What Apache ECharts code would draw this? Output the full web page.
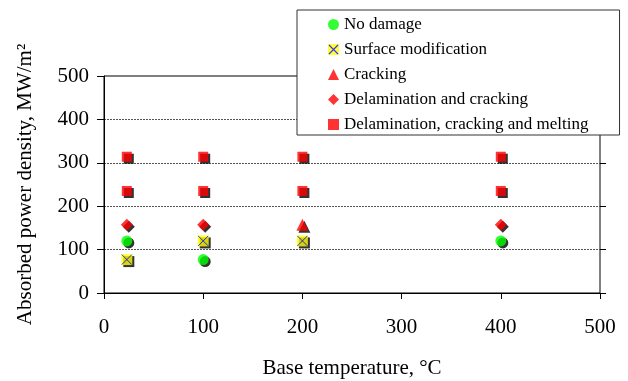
<!DOCTYPE html>
<html>
<head>
<meta charset="utf-8">
<script src="https://cdn.jsdelivr.net/npm/echarts@6/dist/echarts.min.js"></script>
<style>
html,body{margin:0;padding:0;background:#fff;}
#chart{width:628px;height:381px;}
</style>
</head>
<body>
<div id="chart"></div>
<script>
// Data: [base temperature °C, absorbed power density MW/m²]
const seriesNames = ['No damage', 'Surface modification', 'Cracking', 'Delamination and cracking', 'Delamination, cracking and melting'];
const noDamage = [[23, 120], [100, 77], [400, 120]];
const surfaceModification = [[23, 77], [100, 120], [200, 120]];
const cracking = [[200, 157]];
const delaminationCracking = [[23, 157], [100, 157], [400, 157]];
const delaminationCrackingMelting = [[23, 235], [100, 235], [200, 235], [400, 235], [23, 314], [100, 314], [200, 314], [400, 314]];
const xTicks = [0, 100, 200, 300, 400, 500];
const yTicks = [0, 100, 200, 300, 400, 500];

const FONT = "'Liberation Serif', 'Times New Roman', serif";
const shadow = { shadowColor: '#000', shadowBlur: 0, shadowOffsetX: 2, shadowOffsetY: 2 };
const xIconSvg = "image://data:image/svg+xml;utf8," + encodeURIComponent(
  '<svg xmlns="http://www.w3.org/2000/svg" width="22" height="22" viewBox="0 0 22 22">' +
  '<rect x="0" y="0" width="22" height="22" fill="#ffff00"/>' +
  '<path d="M2 2 L20 20 M20 2 L2 20" stroke="#0000ff" stroke-width="2.2"/></svg>');

const chart = echarts.init(document.getElementById('chart'));
chart.setOption({
  backgroundColor: '#fff',
  animation: false,
  textStyle: { fontFamily: FONT },
  grid: { left: 104, right: 28, top: 76, bottom: 88, containLabel: false, outerBoundsMode: 'none',
    show: true, borderColor: '#000', borderWidth: 1, backgroundColor: 'transparent' },
  legend: {
    orient: 'vertical', left: 297, top: 10,
    padding: [6, 31, 2, 31],
    itemWidth: 11, itemHeight: 11, itemGap: 8,
    backgroundColor: '#fff', borderColor: '#333', borderWidth: 1,
    textStyle: { fontFamily: FONT, fontSize: 17, color: '#000' },
    itemStyle: { shadowColor: 'rgba(0,0,0,0)', shadowOffsetX: 0, shadowOffsetY: 0, shadowBlur: 0 },
    data: [
      { name: seriesNames[0], icon: 'circle' },
      { name: seriesNames[1], icon: xIconSvg },
      { name: seriesNames[2], icon: 'triangle' },
      { name: seriesNames[3], icon: 'diamond' },
      { name: seriesNames[4], icon: 'rect' }
    ]
  },
  xAxis: [{
    type: 'value', min: xTicks[0], max: xTicks[xTicks.length - 1], interval: 100,
    name: 'Base temperature, °C', nameLocation: 'middle', nameGap: 65,
    nameTextStyle: { fontFamily: FONT, fontSize: 21, color: '#000' },
    axisLine: { show: true, onZero: false, lineStyle: { color: '#000', width: 1 } },
    axisTick: { show: true, inside: false, length: 6, lineStyle: { color: '#000' } },
    axisLabel: { fontFamily: FONT, fontSize: 21, color: '#000', margin: 24 },
    splitLine: { show: false }
  }],
  yAxis: [{
    type: 'value', min: yTicks[0], max: yTicks[yTicks.length - 1], interval: 100,
    name: 'Absorbed power density, MW/m²', nameLocation: 'middle', nameGap: 68,
    nameTextStyle: { fontFamily: FONT, fontSize: 21, color: '#000' },
    axisLine: { show: true, onZero: false, lineStyle: { color: '#000', width: 1 } },
    axisTick: { show: true, inside: false, length: 7, lineStyle: { color: '#000' } },
    axisLabel: { fontFamily: FONT, fontSize: 21, color: '#000', margin: 15 },
    splitLine: { show: true, showMinLine: false, showMaxLine: false, lineStyle: { color: '#555', type: [2, 1], width: 1 } }
  }, {
    type: 'value', position: 'right', offset: -496, min: yTicks[0], max: yTicks[yTicks.length - 1], interval: 100,
    axisLine: { show: false },
    axisTick: { show: true, inside: false, length: 6, lineStyle: { color: '#000' } },
    axisLabel: { show: false },
    splitLine: { show: false }
  }],
  series: [
    { name: seriesNames[0], type: 'scatter', data: noDamage, symbol: 'circle', symbolSize: 11,
      itemStyle: Object.assign({ color: '#00ff00' }, shadow) },
    { name: seriesNames[1], type: 'scatter', data: surfaceModification, symbol: 'rect', symbolSize: 11,
      itemStyle: Object.assign({ color: '#ffff00' }, shadow) },
    { name: 'sm-cross', type: 'scatter', data: surfaceModification, symbol: 'path://M0,0 L10,10 M10,0 L0,10', symbolSize: 10,
      silent: true, z: 3, itemStyle: { color: 'none', borderColor: '#0000ff', borderWidth: 1 } },
    { name: seriesNames[2], type: 'scatter', data: cracking, symbol: 'triangle', symbolSize: 12,
      itemStyle: Object.assign({ color: '#ff0000' }, shadow) },
    { name: seriesNames[3], type: 'scatter', data: delaminationCracking, symbol: 'diamond', symbolSize: 12,
      itemStyle: Object.assign({ color: '#ff0000' }, shadow) },
    { name: seriesNames[4], type: 'scatter', data: delaminationCrackingMelting, symbol: 'rect', symbolSize: 10,
      itemStyle: Object.assign({ color: '#ff0000' }, shadow) }
  ]
});
</script>
</body>
</html>
